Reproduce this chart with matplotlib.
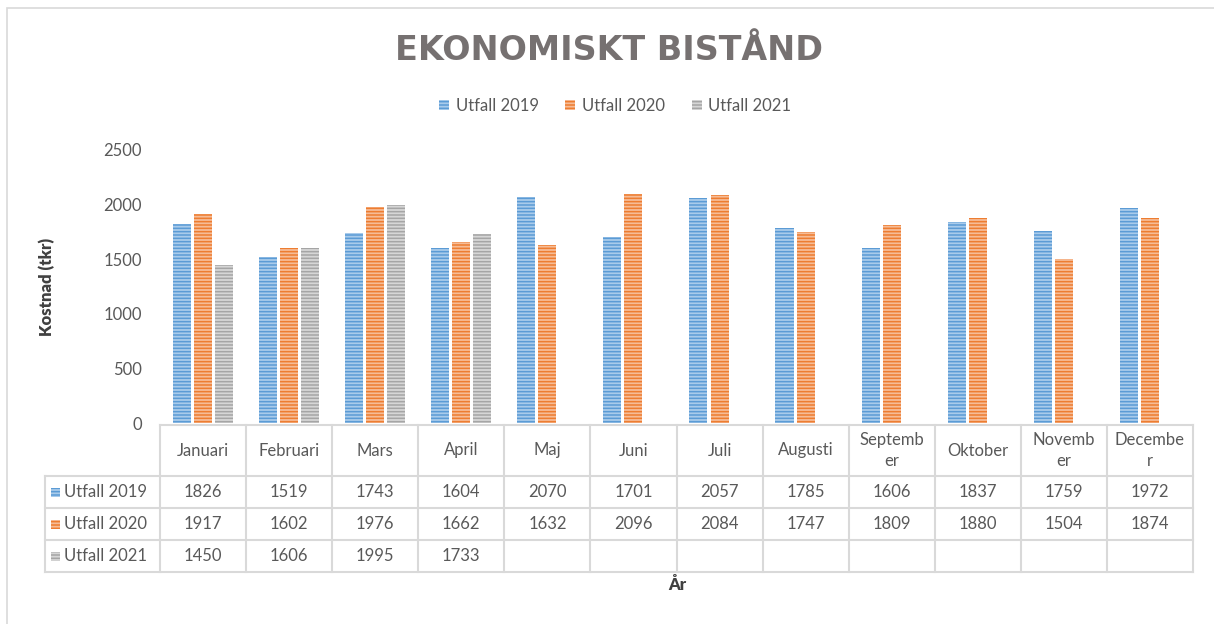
import matplotlib
matplotlib.use("Agg")
import matplotlib.pyplot as plt
import numpy as np
from matplotlib.patches import Rectangle

manader = ["Januari", "Februari", "Mars", "April", "Maj", "Juni", "Juli",
           "Augusti", "September", "Oktober", "November", "December"]
# rubrikerna bryts som i Excel-tabellen
rubriker = ["Januari", "Februari", "Mars", "April", "Maj", "Juni", "Juli",
            "Augusti", "Septemb\ner", "Oktober", "Novemb\ner", "Decembe\nr"]
serier = ["Utfall 2019", "Utfall 2020", "Utfall 2021"]
utfall_2019 = [1826, 1519, 1743, 1604, 2070, 1701, 2057, 1785, 1606, 1837, 1759, 1972]
utfall_2020 = [1917, 1602, 1976, 1662, 1632, 2096, 2084, 1747, 1809, 1880, 1504, 1874]
utfall_2021 = [1450, 1606, 1995, 1733, None, None, None, None, None, None, None, None]
y_ticks = [0, 500, 1000, 1500, 2000, 2500]

farger = ["#5B9BD5", "#ED7D31", "#A5A5A5"]
ljusa = ["#A9CBEB", "#F6BC96", "#D6D6D6"]
textfarg = "#595959"

plt.rcParams['font.family'] = ['Lato', 'DejaVu Sans']
plt.rcParams['hatch.linewidth'] = 1.1

W, H = 1214, 624


def fx(px):
    return px / W


def fy(py):
    return 1 - py / H


fig = plt.figure(figsize=(W / 100, H / 100), dpi=100)

# ram runt diagrammet
fig.add_artist(Rectangle((fx(7), -0.5), 2, 0.5 + fy(8), transform=fig.transFigure,
                         fill=False, edgecolor="#D9D9D9", linewidth=1.2))

ax = fig.add_axes([fx(160), fy(423), (1193 - 160) / W, (423 - 150) / H])
ax.set_xlim(0, 12)
ax.set_ylim(0, 2500)

x = np.arange(len(manader)) + 0.5
alla = [utfall_2019, utfall_2020, utfall_2021]
staplar = []
for i in range(3):
    v = np.array([np.nan if a is None else a for a in alla[i]], dtype=float)
    b = ax.bar(x + (i - 1) * 0.245, v, 0.21, facecolor=ljusa[i], edgecolor=farger[i],
               hatch="-----", linewidth=0)
    staplar.append(b)

for s in ax.spines.values():
    s.set_visible(False)
ax.set_xticks([])
ax.set_yticks(y_ticks)
ax.tick_params(axis='y', length=0, pad=13, labelsize=12, labelcolor=textfarg)

# datatabell under staplarna
tax = fig.add_axes([fx(160), fy(572), (1193 - 160) / W, (572 - 425) / H])
tax.set_xlim(0, 12)
tax.set_ylim(147, 0)
tax.axis('off')
grid = "#D9D9D9"
vanster = (45 - 160) / 86.08
rader = [0, 51, 83, 115, 147]
tax.plot([0, 12], [0, 0], color=grid, lw=1.5, clip_on=False)
for r in rader[1:]:
    tax.plot([vanster, 12], [r, r], color=grid, lw=1.5, clip_on=False)
for k in range(13):
    tax.plot([k, k], [0, 147], color=grid, lw=1.5, clip_on=False)
tax.plot([vanster, vanster], [51, 147], color=grid, lw=1.5, clip_on=False)

for k in range(12):
    tax.text(k + 0.5, 25.5, rubriker[k], ha='center', va='center', fontsize=12,
             color=textfarg, linespacing=1.45)
    for i in range(3):
        if alla[i][k] is not None:
            tax.text(k + 0.5, (rader[i + 1] + rader[i + 2]) / 2, str(alla[i][k]),
                     ha='center', va='center', fontsize=12, color=textfarg)

for i in range(3):
    mitt = (rader[i + 1] + rader[i + 2]) / 2
    tax.add_patch(Rectangle((-1.27, mitt - 4.5), 0.105, 9, facecolor=ljusa[i],
                            edgecolor=farger[i], hatch="-----", linewidth=0, clip_on=False))
    tax.text(-1.12, mitt, serier[i], ha='left', va='center', fontsize=12,
             color=textfarg, clip_on=False)

fig.text(fx(609), fy(51), "EKONOMISKT BISTÅND", ha='center', va='center',
         fontsize=24, fontweight='bold', color="#767171", family=['DejaVu Sans'])
fig.legend(staplar, serier, loc='center', bbox_to_anchor=(fx(615), fy(106)), ncol=3,
           frameon=False, fontsize=12, handlelength=0.6, handleheight=0.6,
           columnspacing=1.6, handletextpad=0.4, labelcolor=textfarg)
fig.text(fx(47), fy(287), "Kostnad (tkr)", rotation=90, ha='center', va='center',
         fontsize=12, fontweight='heavy', color="#404040")
fig.text(fx(677), fy(585), "År", ha='center', va='center',
         fontsize=12, fontweight='heavy', color="#404040")

plt.savefig("out.png", dpi=100)
